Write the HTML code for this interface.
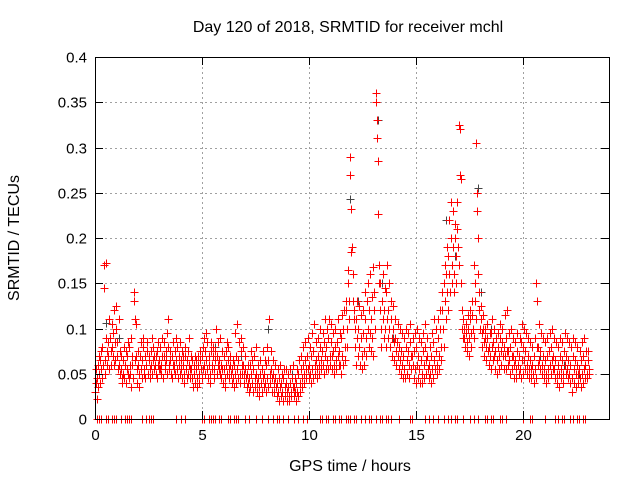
<!DOCTYPE html>
<html><head><meta charset="utf-8"><style>
body{margin:0;background:#fff}
svg{display:block;font-family:"Liberation Sans",sans-serif}
</style></head><body>
<svg id="c" width="640" height="480">
<text x="348" y="32" font-size="16" text-anchor="middle">Day 120 of 2018, SRMTID for receiver mchl</text>
<text x="350" y="471" font-size="16" text-anchor="middle">GPS time / hours</text>
<text transform="translate(19,238) rotate(-90)" font-size="16" text-anchor="middle">SRMTID / TECUs</text>
<g id="grid"></g>
<g id="marks" shape-rendering="crispEdges"></g>
<rect x="95.5" y="57.5" width="514" height="362" fill="none" stroke="#000"/>
<g id="axes"></g>
</svg>
<script>
const xTicks=[0,5,10,15,20];
const yTicks=[0,0.05,0.1,0.15,0.2,0.25,0.3,0.35,0.4];
const yTickLabels=["0","0.05","0.1","0.15","0.2","0.25","0.3","0.35","0.4"];
const redStart=0, redStep=0.1;
const redVals=[
[30,55,40,22],[45,60,35,70],[50,65,40,75],[55,80,45,60],[170,145,65,50],[172,90,60,75],[85,70,55,110],[90,75,60,105],[80,70,95,60],[120,85,65,100],
[125,85,70,55],[110,60,50,75],[70,55,45,40],[65,50,80,45],[60,75,40,55],[70,85,50,45],[80,60,50,35],[90,70,60,45],[130,140,110,65],[105,70,55,40],
[60,75,50,35],[70,85,55,45],[65,80,90,50],[55,70,45,60],[60,75,85,50],[70,65,55,45],[75,60,50,90],[65,80,55,70],[60,70,50,45],[75,85,60,55],
[65,80,55,50],[60,70,90,45],[70,85,55,60],[75,65,50,95],[110,80,60,55],[65,75,50,45],[70,85,60,55],[60,75,50,90],[65,80,55,45],[70,60,50,85],
[65,55,75,45],[60,70,50,40],[70,80,55,45],[65,75,50,90],[60,55,45,70],[55,65,45,35],[50,60,40,70],[55,65,45,35],[60,70,50,40],[65,75,55,45],
[70,80,55,90],[60,75,50,95],[65,85,55,45],[60,70,50,40],[75,85,60,55],[70,80,55,45],[65,75,100,50],[70,85,60,55],[65,90,50,45],[60,75,55,40],
[55,70,45,35],[60,75,50,85],[65,80,55,45],[60,70,50,40],[55,65,45,35],[60,95,50,40],[70,105,55,45],[65,85,50,40],[75,90,60,50],[60,80,50,40],
[55,70,45,35],[50,60,40,30],[45,60,35,75],[50,65,40,30],[55,70,45,35],[50,80,40,30],[45,60,35,25],[50,65,40,30],[55,75,45,35],[50,65,40,30],
[60,80,45,35],[65,110,50,40],[55,75,45,30],[50,65,40,30],[45,60,35,25],[40,55,30,20],[45,60,35,25],[40,50,30,20],[45,55,35,25],[40,55,30,20],
[35,50,25,20],[40,55,30,25],[45,60,35,25],[35,45,30,20],[40,55,30,25],[50,65,40,30],[55,70,45,35],[60,80,50,40],[65,85,55,45],[70,90,55,45],
[60,80,50,40],[70,95,55,45],[75,105,60,50],[65,85,55,45],[70,90,60,50],[80,100,65,55],[75,95,60,50],[85,110,70,55],[80,100,65,55],[90,110,70,60],
[85,105,70,55],[75,95,60,50],[80,100,65,55],[85,110,70,60],[75,95,60,50],[90,115,70,60],[100,120,80,65],[120,130,100,80],[165,150,130,110],[290,270,232,185],
[190,160,130,110],[120,100,80,60],[110,130,90,70],[100,125,80,60],[90,115,70,55],[95,120,75,60],[140,110,90,70],[130,150,100,80],[120,160,95,75],[110,135,90,70],
[168,140,120,100],[360,350,330,310],[285,226,170,150],[150,120,100,80],[130,160,110,90],[120,145,100,80],[140,170,110,90],[120,150,100,80],[110,130,90,70],[100,125,85,65],
[90,110,75,60],[85,105,70,55],[80,100,65,50],[75,95,60,45],[70,90,55,45],[80,100,65,50],[75,95,60,45],[85,105,70,55],[70,90,60,45],[75,95,55,40],
[80,100,60,45],[70,90,55,40],[65,85,50,40],[75,95,60,45],[80,105,65,50],[70,90,55,45],[60,80,50,40],[70,95,55,45],[85,110,65,55],[75,100,60,50],
[90,110,70,55],[100,120,80,65],[120,140,100,80],[150,170,130,110],[160,190,140,120],[180,220,160,140],[200,240,170,150],[190,230,160,140],[200,215,180,150],[240,210,190,170],
[325,320,270,265],[150,120,100,90],[110,100,90,80],[105,95,85,75],[115,100,90,70],[120,110,95,80],[130,115,100,90],[170,150,130,110],[305,250,230,200],[160,140,120,100],
[125,110,95,80],[115,100,85,70],[100,90,80,65],[90,105,75,60],[80,95,70,55],[95,110,80,65],[85,100,70,55],[75,90,65,50],[80,95,70,55],[90,105,75,60],
[85,100,70,55],[80,115,70,55],[90,120,75,60],[75,95,65,50],[80,100,70,55],[70,90,60,45],[65,85,55,45],[75,95,60,50],[70,90,55,45],[85,105,65,50],
[80,100,65,55],[75,95,60,50],[70,90,55,45],[65,85,55,45],[60,80,50,40],[70,90,55,45],[150,130,80,60],[80,105,65,55],[75,95,60,50],[70,90,55,45],
[65,85,50,40],[70,90,55,45],[75,95,60,50],[80,100,65,55],[70,90,55,45],[65,85,50,40],[60,80,50,35],[70,90,55,45],[65,85,50,40],[75,95,60,50],
[70,90,55,45],[65,85,50,40],[60,80,45,30],[70,90,55,40],[65,85,50,35],[60,80,50,40],[55,75,45,35],[65,85,50,40],[70,90,55,45],[60,75,50,45],
[65,75,55,50]];
const zeroTimes=[0.1,0.2,0.3,0.5,0.6,0.8,0.9,1.0,1.2,1.4,1.5,1.6,1.7,2.2,2.4,2.5,2.6,2.7,3.8,4.0,4.2,5.0,5.1,5.3,5.4,5.5,5.6,5.8,5.9,6.2,6.3,6.5,6.6,6.7,7.0,7.2,7.5,7.8,8.1,8.3,8.5,8.6,8.8,9.0,9.3,9.5,9.7,9.9,10.5,10.6,10.8,10.9,11.1,11.2,11.4,11.5,11.7,11.8,11.9,12.1,12.2,12.4,12.6,12.8,12.9,13.1,13.3,13.4,13.6,13.7,13.8,14.2,14.7,14.8,15.4,15.6,15.8,16.0,16.3,16.5,16.6,16.8,16.9,17.2,17.5,17.7,17.9,18.2,18.3,18.5,18.6,18.9,19.0,19.2,20.0,20.3,20.4,21.0,21.5,21.6,21.8,21.9,22.2,22.3,22.5,22.6,22.8,22.9];
const blackTimes=[0.5,1.1,3.3,5.6,6.8,8.1,9.2,11.9,12.3,13.2,13.4,13.9,16.4,16.6,16.8,17.9,18.0,18.5,19.4,20.8,21.9,22.6];
const blackVals=[0.106,0.09,0.07,0.08,0.07,0.1,0.05,0.243,0.13,0.33,0.15,0.09,0.22,0.2,0.18,0.255,0.14,0.1,0.08,0.07,0.06,0.05];

const NS="http://www.w3.org/2000/svg";
const X0=95,X1=609,Y0=419,Y1=57,XMAX=24;
const xs=h=>X0+h*(X1-X0)/XMAX;
const ys=v=>Y0-v*(Y0-Y1)/0.4;
const grid=document.getElementById('grid'),marks=document.getElementById('marks'),axes=document.getElementById('axes');
function line(g,x1,y1,x2,y2,st,dash){const l=document.createElementNS(NS,'line');l.setAttribute('x1',x1);l.setAttribute('y1',y1);l.setAttribute('x2',x2);l.setAttribute('y2',y2);l.setAttribute('stroke',st);if(dash)l.setAttribute('stroke-dasharray',dash);g.appendChild(l);return l;}
function txt(g,x,y,s,anchor){const t=document.createElementNS(NS,'text');t.setAttribute('x',x);t.setAttribute('y',y);t.setAttribute('font-size','15');t.setAttribute('text-anchor',anchor);t.textContent=s;g.appendChild(t);return t;}
yTicks.forEach((v,i)=>{const y=Math.round(ys(v))+0.5;
 if(i>0&&i<yTicks.length-1){const gl=line(grid,X0,y,X1,y,'#a0a0a0','2,3');}
 line(axes,X0,y,X0+8,y,'#000');line(axes,X1-8,y,X1,y,'#000');
 const t=txt(axes,X0-8,y+5,yTickLabels[i],'end');
 
 
});
xTicks.forEach(h=>{const x=Math.round(xs(h))+0.5;
 if(h>0){const gl=line(grid,x,Y1,x,Y0,'#a0a0a0','2,3');}
 line(axes,x,Y0,x,Y0-8,'#000');line(axes,x,Y1,x,Y1+8,'#000');
 const t=txt(axes,x,Y0+21,String(h),'middle');
 
 
});
function cross(x,y,c){const p=document.createElementNS(NS,'path');p.setAttribute('d',`M${x-4},${y}h8M${x},${y-4}v8`);p.setAttribute('stroke',c);p.setAttribute('stroke-width','1.3');p.setAttribute('fill','none');
 
 
 marks.appendChild(p);}
blackTimes.forEach((h,i)=>cross(Math.round(xs(h))+0.5,Math.round(ys(blackVals[i]))+0.5,'#444'));
redVals.forEach((arr,i)=>{const h=redStart+i*redStep;arr.forEach((v,j)=>{cross(Math.round(xs(h+j*0.025))+0.5,Math.round(ys(v/1000))+0.5,'#ff0000');});});
zeroTimes.forEach(h=>cross(Math.round(xs(h))+0.5,Y0+0.5,'#ff0000'));
</script>
</body></html>
